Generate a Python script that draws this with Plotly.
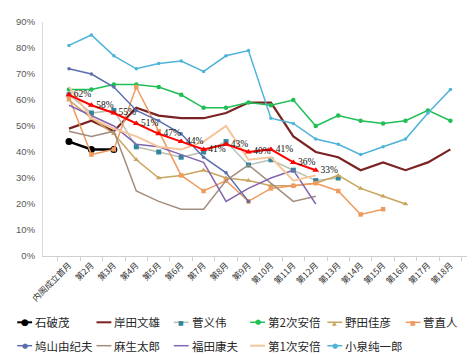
import plotly.graph_objects as go

categories = ["内阁成立首月", "第2月", "第3月", "第4月", "第5月", "第6月", "第7月", "第8月", "第9月",
              "第10月", "第11月", "第12月", "第13月", "第14月", "第15月", "第16月", "第17月", "第18月"]

ishiba = [44, 41, 41]
kishida = [49, 52, 48, 57, 54, 53, 53, 55, 59, 59, 46, 40, 38, 33, 36, 33, 36, 41]
suga_y = [62, 55, 56, 42, 40, 38, 40, 44, 35, 37, 33, 29, 30]
abe2 = [64, 64, 66, 66, 65, 62, 57, 57, 59, 58, 60, 50, 54, 52, 51, 52, 56, 52]
noda = [60, 53, 47, 37, 30, 31, 33, 30, 29, 27, 27, 28, 31, 26, 23, 20]
kan_n = [61, 39, 41, 65, 48, 31, 25, 29, 21, 26, 27, 28, 25, 16, 18]
hatoyama = [72, 70, 65, 56, 52, 47, 38, 32, 21]
aso = [48, 46, 48, 25, 21, 18, 18, 29, 35, 28, 21, 23]
fukuda = [58, 54, 50, 43, 42, 39, 36, 21, 26, 30, 33, 20]
abe1 = [65, 53, 49, 46, 42, 41, 44, 50, 37, 38, 29, 31]
koizumi = [81, 85, 77, 72, 74, 75, 71, 77, 79, 53, 51, 45, 43, 39, 42, 45, 55, 64]
average = [62, 58, 55, 51, 47, 44, 41, 43, 40, 41, 36, 33]

names = ["石破茂", "岸田文雄", "菅义伟", "第2次安倍", "野田佳彦", "菅直人",
         "鸠山由纪夫", "麻生太郎", "福田康夫", "第1次安倍", "小泉纯一郎"]
series = [ishiba, kishida, suga_y, abe2, noda, kan_n, hatoyama, aso, fukuda, abe1, koizumi]

styles = [
    dict(line="#000000", width=2.5, marker="#000000", symbol="circle", size=7),
    dict(line="#7b2222", width=2.2, marker=None, symbol=None, size=0),
    dict(line="#b9c1b1", width=1.5, marker="#31859c", symbol="square", size=5),
    dict(line="#1fbf55", width=1.5, marker="#1fbf55", symbol="circle", size=4.5),
    dict(line="#c9a45c", width=1.5, marker="#c9a45c", symbol="triangle-up", size=5),
    dict(line="#ef9a5e", width=1.5, marker="#ef9a5e", symbol="square", size=4.5),
    dict(line="#5b6fae", width=1.5, marker="#5b6fae", symbol="circle", size=3.5),
    dict(line="#a38d7f", width=1.5, marker=None, symbol=None, size=0),
    dict(line="#8466b0", width=1.5, marker=None, symbol=None, size=0),
    dict(line="#f6c59a", width=2.0, marker=None, symbol=None, size=0),
    dict(line="#4eb3d8", width=1.5, marker="#4eb3d8", symbol="circle", size=3.5),
]

fig = go.Figure()
for name, vals, st in zip(names, series, styles):
    kw = dict(x=categories[:len(vals)], y=vals, name=name, showlegend=False,
              line=dict(color=st["line"], width=st["width"]))
    if st["marker"]:
        kw["mode"] = "lines+markers"
        kw["marker"] = dict(color=st["marker"], symbol=st["symbol"], size=st["size"])
    else:
        kw["mode"] = "lines"
    fig.add_trace(go.Scatter(**kw))

fig.add_trace(go.Scatter(
    x=categories[:len(average)], y=average, name="平均", showlegend=False,
    mode="lines+markers+text", line=dict(color="#ff0000", width=2),
    marker=dict(color="#ff0000", symbol="triangle-up", size=6),
    text=[f"{v}%" for v in average], textposition="middle right",
    textfont=dict(family="Liberation Serif", size=9.5, color="#111111")))

# manual legend (pixel layout -> paper coords)
L, R, T, B = 31, 8, 8, 107
W, H = 475, 355
pw, ph = W - L - R, H - T - B
def px(x):
    return (x - L) / pw
def py(y):
    return (H - B - y) / ph

glyph = {"circle": "●", "square": "■", "triangle-up": "▲"}
leg_x = [5, 85, 163, 240, 318, 397]
leg_y = [316, 340]
shapes, annots = [], []
for k, (name, st) in enumerate(zip(names, styles)):
    row, col = divmod(k, 6)
    sx, y = leg_x[col], leg_y[row]
    shapes.append(dict(type="line", xref="paper", yref="paper",
                       x0=px(sx), x1=px(sx + 15), y0=py(y), y1=py(y),
                       line=dict(color=st["line"], width=min(st["width"], 2))))
    if st["marker"]:
        gs = {"circle": 7, "square": 6, "triangle-up": 6}[st["symbol"]]
        if k == 0:
            gs = 9
        annots.append(dict(xref="paper", yref="paper", x=px(sx + 7.5), y=py(y),
                           text=glyph[st["symbol"]], showarrow=False,
                           xanchor="center", yanchor="middle",
                           font=dict(size=gs, color=st["marker"], family="DejaVu Sans")))
    annots.append(dict(xref="paper", yref="paper", x=px(sx + 16), y=py(y),
                       text=name, showarrow=False, xanchor="left", yanchor="middle",
                       font=dict(size=11.5, color="#262626", family="Noto Sans CJK SC")))

fig.update_layout(
    width=W, height=H, margin=dict(l=L, r=R, t=T, b=B),
    plot_bgcolor="white", paper_bgcolor="white",
    showlegend=False, shapes=shapes, annotations=annots,
    xaxis=dict(type="category", categoryorder="array", categoryarray=categories,
               tickangle=-45, tickson="boundaries", ticks="outside", ticklen=4,
               tickcolor="#d0d0d0", showline=True, linecolor="#d0d0d0", linewidth=1,
               showgrid=False, zeroline=False,
               tickfont=dict(size=8.5, color="#333333", family="Noto Sans CJK SC")),
    yaxis=dict(range=[0, 90], dtick=10, ticksuffix="%", showgrid=False, zeroline=False,
               showline=True, linecolor="#d9d9d9", linewidth=1, ticks="",
               ticklabelstandoff=5,
               tickfont=dict(size=9.5, color="#595959", family="Liberation Sans")),
)

fig.write_html("out.html")
